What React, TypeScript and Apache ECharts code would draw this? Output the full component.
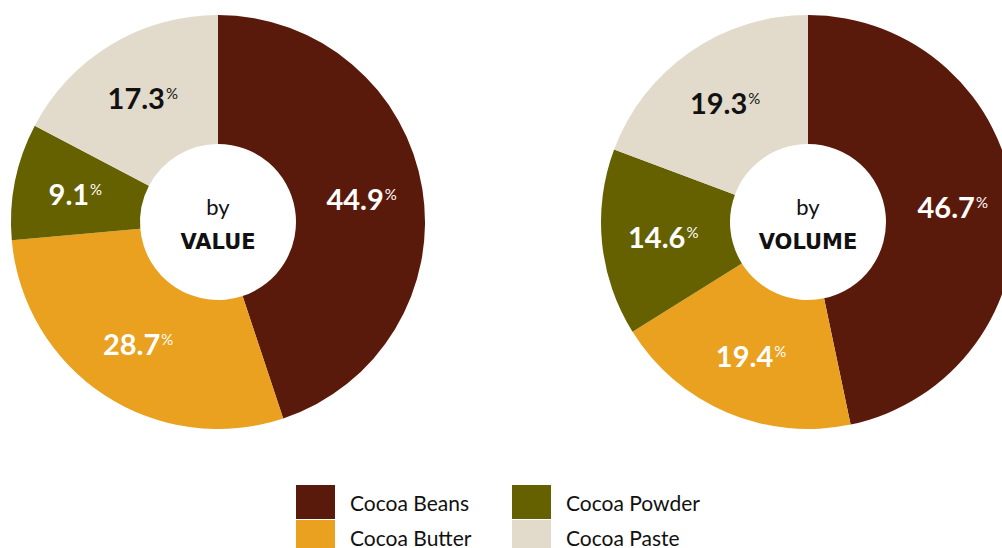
import React, { useEffect, useRef } from "react";
import * as echarts from "echarts";

const categories = ["Cocoa Beans", "Cocoa Butter", "Cocoa Powder", "Cocoa Paste"];
const valueShares = [44.9, 28.7, 9.1, 17.3];
const volumeShares = [46.7, 19.4, 14.6, 19.3];
const colors = ["#5a1a0b", "#e9a11f", "#666100", "#e2dbcb"];
const labelColors = ["#ffffff", "#ffffff", "#ffffff", "#111111"];

const FONT = "Lato";

function makeSeries(name: string, values: number[], cx: number) {
  return {
    type: "pie",
    name,
    center: [cx, 222],
    radius: [78, 207],
    startAngle: 90,
    clockwise: true,
    avoidLabelOverlap: false,
    silent: true,
    emphasis: { disabled: true },
    labelLine: { show: false },
    label: {
      show: true,
      position: "inside",
      formatter: (p: any) => `{v|${p.value}}{p|%}`,
      rich: {
        v: { fontFamily: FONT, fontWeight: "bold", fontSize: 29, lineHeight: 34 },
        p: { fontFamily: FONT, fontWeight: "normal", fontSize: 15, verticalAlign: "top", lineHeight: 16, padding: [5, 0, 0, 1] },
      },
    },
    data: categories.map((c, i) => ({
      name: c,
      value: values[i],
      itemStyle: { color: colors[i] },
      label: { color: labelColors[i] },
    })),
  };
}

export default function App() {
  const ref = useRef<HTMLDivElement>(null);
  useEffect(() => {
    document.body.style.margin = "0";
    const chart = echarts.init(ref.current!, null, { renderer: "svg" });
    const legendCommon = {
      orient: "vertical",
      icon: "rect",
      itemWidth: 39,
      itemHeight: 34,
      itemGap: 1,
      height: 120,
      padding: 0,
      selectedMode: false,
      textStyle: { fontFamily: FONT, fontSize: 21, color: "#111111", padding: [0, 0, 0, 10] },
    };
    chart.setOption({
      animation: false,
      backgroundColor: "#ffffff",
      legend: [
        { ...legendCommon, left: 296, top: 485, data: [categories[0], categories[1]] },
        { ...legendCommon, left: 512, top: 485, data: [categories[2], categories[3]] },
      ],
      graphic: [
        { type: "text", x: 218, y: 206, style: { text: "by", fontFamily: FONT, fontSize: 22, fill: "#111", align: "center", verticalAlign: "middle" } },
        { type: "text", x: 218, y: 242, style: { text: "VALUE", fontFamily: "DejaVu Sans", fontWeight: "bold", fontSize: 21, fill: "#111", align: "center", verticalAlign: "middle" } },
        { type: "text", x: 808, y: 206, style: { text: "by", fontFamily: FONT, fontSize: 22, fill: "#111", align: "center", verticalAlign: "middle" } },
        { type: "text", x: 808, y: 242, style: { text: "VOLUME", fontFamily: "DejaVu Sans", fontWeight: "bold", fontSize: 21, fill: "#111", align: "center", verticalAlign: "middle" } },
      ],
      series: [makeSeries("by Value", valueShares, 218), makeSeries("by Volume", volumeShares, 808)],
    });
    return () => chart.dispose();
  }, []);
  return <div ref={ref} style={{ width: 1002, height: 548 }} />;
}
